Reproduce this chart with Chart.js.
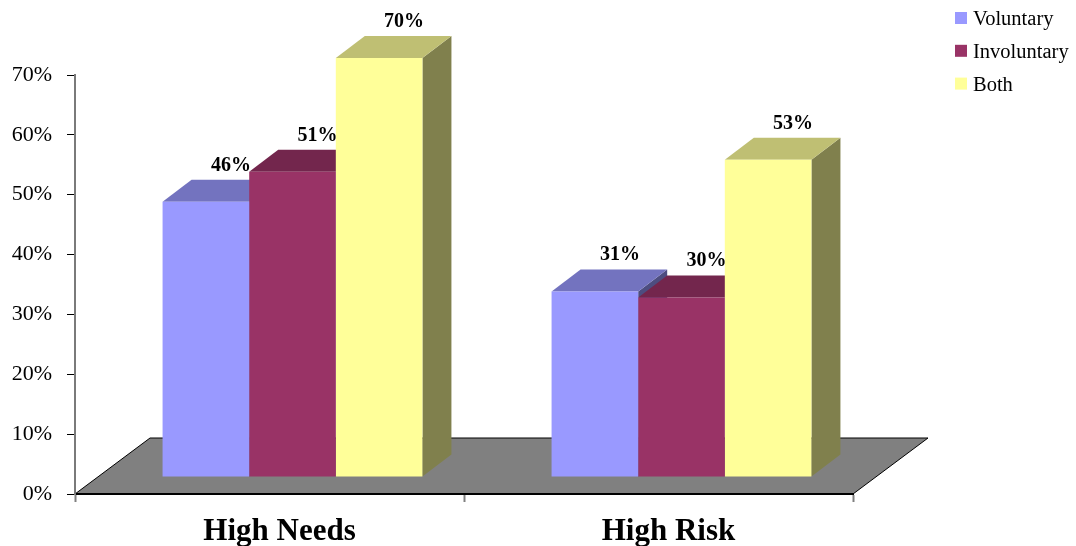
<!DOCTYPE html>
<html>
<head>
<meta charset="utf-8">
<script src="https://cdn.jsdelivr.net/npm/chart.js@4/dist/chart.umd.min.js"></script>
<style>
  html, body { margin: 0; padding: 0; background: #fff; }
  #wrap { width: 1076px; height: 546px; position: relative; }
</style>
</head>
<body>
<div id="wrap"><canvas id="chart"></canvas></div>
<script>
// Categories, series and axis ticks
const categories = ['High Needs', 'High Risk'];
const seriesNames = ['Voluntary', 'Involuntary', 'Both'];
const voluntary = [46, 31];
const involuntary = [51, 30];
const both = [70, 53];
const yTicks = [0, 10, 20, 30, 40, 50, 60, 70];

// Face colours: front, top (lit), side (shaded)
const frontColors = ['#9999FF', '#993366', '#FFFF99'];
const topColors = ['#7373BF', '#73264D', '#BFBF73'];
const sideColors = ['#4D4D80', '#4D1A33', '#80804D'];

// Oblique projection offsets
const FLOOR_DX = 75, FLOOR_DY = 56;       // full depth of the floor
const BAR_SHIFT_X = 23, BAR_SHIFT_Y = 17; // bars stand this far behind the front edge
const DEPTH_DX = 29, DEPTH_DY = 22;       // thickness of each bar

const FONT = "'Liberation Serif', 'Times New Roman', serif";
Chart.defaults.font.family = FONT;

// Floor plate under the bars, drawn before the axes
const floorPlugin = {
  id: 'floor',
  beforeDraw(chart) {
    const { ctx, chartArea: a, scales: { y } } = chart;
    const y0 = y.getPixelForValue(0);
    ctx.save();
    ctx.beginPath();
    ctx.moveTo(a.left, y0);
    ctx.lineTo(a.right, y0);
    ctx.lineTo(a.right + FLOOR_DX, y0 - FLOOR_DY);
    ctx.lineTo(a.left + FLOOR_DX, y0 - FLOOR_DY);
    ctx.closePath();
    ctx.fillStyle = '#808080';
    ctx.fill();
    ctx.strokeStyle = '#000';
    ctx.lineWidth = 1;
    ctx.stroke();
    ctx.restore();
  }
};

// Top and side faces of each bar; the library draws the front faces
const boxPlugin = {
  id: 'box3d',
  beforeDatasetsDraw(chart) {
    const { ctx } = chart;
    const bars = [];
    chart.data.datasets.forEach((ds, di) => {
      chart.getDatasetMeta(di).data.forEach((el, i) => {
        const p = el.getProps(['x', 'y', 'width', 'base'], true);
        bars.push({ di, i, cx: p.x, left: p.x - p.width / 2, right: p.x + p.width / 2, top: p.y, base: p.base });
      });
    });
    bars.sort((a, b) => a.left - b.left);
    chart.$bars = bars;
    ctx.save();
    ctx.translate(BAR_SHIFT_X, -BAR_SHIFT_Y);
    bars.forEach(b => {
      ctx.beginPath();
      ctx.moveTo(b.right, b.top);
      ctx.lineTo(b.right + DEPTH_DX, b.top - DEPTH_DY);
      ctx.lineTo(b.right + DEPTH_DX, b.base - DEPTH_DY);
      ctx.lineTo(b.right, b.base);
      ctx.closePath();
      ctx.fillStyle = sideColors[b.di];
      ctx.fill();
      ctx.beginPath();
      ctx.moveTo(b.left, b.top);
      ctx.lineTo(b.right, b.top);
      ctx.lineTo(b.right + DEPTH_DX, b.top - DEPTH_DY);
      ctx.lineTo(b.left + DEPTH_DX, b.top - DEPTH_DY);
      ctx.closePath();
      ctx.fillStyle = topColors[b.di];
      ctx.fill();
    });
    // the translation stays in place while the front faces are drawn
  },
  afterDatasetsDraw(chart) {
    const { ctx } = chart;
    ctx.restore();
    ctx.save();
    ctx.font = 'bold 20px ' + FONT;
    ctx.fillStyle = '#000';
    ctx.textAlign = 'center';
    ctx.textBaseline = 'alphabetic';
    (chart.$bars || []).forEach(b => {
      const v = chart.data.datasets[b.di].data[b.i];
      const x = b.cx + BAR_SHIFT_X + DEPTH_DX - 4;
      const y = b.top - BAR_SHIFT_Y - DEPTH_DY - 9;
      ctx.fillText(v + '%', x, y);
    });
    ctx.restore();
  }
};

// Legend in the top right corner
const legendPlugin = {
  id: 'sideLegend',
  afterDraw(chart) {
    const { ctx } = chart;
    ctx.save();
    ctx.font = '20.5px ' + FONT;
    ctx.textBaseline = 'alphabetic';
    ctx.textAlign = 'left';
    chart.data.datasets.forEach((ds, i) => {
      const base = 25 + i * 32.8;
      ctx.fillStyle = ds.backgroundColor;
      ctx.fillRect(955, base - 13, 12, 12);
      ctx.fillStyle = '#000';
      ctx.fillText(ds.label, 973, base);
    });
    ctx.restore();
  }
};

const seriesValues = [voluntary, involuntary, both];

new Chart(document.getElementById('chart'), {
  type: 'bar',
  data: {
    labels: categories,
    datasets: seriesNames.map((name, i) => ({
      label: name,
      data: seriesValues[i],
      backgroundColor: frontColors[i],
      borderWidth: 0,
      clip: false,
      barPercentage: 1,
      categoryPercentage: 0.668
    }))
  },
  options: {
    responsive: true,
    maintainAspectRatio: false,
    animation: false,
    events: [],
    layout: { padding: { left: 0, right: 223, top: 75, bottom: 0 } },
    plugins: { legend: { display: false }, tooltip: { enabled: false } },
    scales: {
      x: {
        offset: true,
        afterFit: s => { s.height = 52; },
        ticks: { color: '#000', font: { size: 31, weight: 'bold' }, padding: 11, labelOffset: 10 },
        grid: { offset: true, drawOnChartArea: false, drawTicks: true, tickLength: 8, tickColor: '#808080', tickWidth: 2 },
        border: { display: true, color: '#000', width: 2 }
      },
      y: {
        min: 0,
        max: 70,
        afterFit: s => { s.width = 75; },
        afterBuildTicks: s => { s.ticks = yTicks.map(v => ({ value: v })); },
        ticks: { color: '#000', font: { size: 22 }, padding: 15, callback: v => v + '%' },
        grid: { drawOnChartArea: false, drawTicks: true, tickLength: 8, tickColor: '#000', tickWidth: 1 },
        border: { display: true, color: '#7a7a7a', width: 2 }
      }
    }
  },
  plugins: [floorPlugin, boxPlugin, legendPlugin]
});
</script>
</body>
</html>
